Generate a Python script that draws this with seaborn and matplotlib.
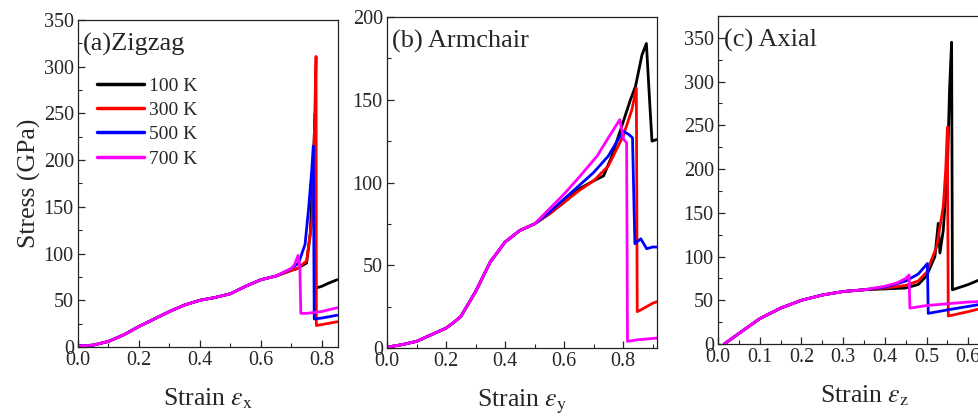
import matplotlib
matplotlib.use("Agg")
import matplotlib.pyplot as plt
from matplotlib.ticker import MultipleLocator
import pandas as pd
import seaborn as sns

temps = ["100 K", "300 K", "500 K", "700 K"]
colors = ["#000000", "#ff0000", "#0000ff", "#ff00ff"]

# ---------------- (a) Zigzag ----------------
a_base_x = [0.0, 0.05, 0.1, 0.15, 0.2, 0.25, 0.3, 0.35, 0.4, 0.45, 0.5, 0.55, 0.6, 0.65]
a_base_y = [1, 2, 6, 13, 22, 30, 38, 45, 50, 53, 57, 65, 72, 76]
a100_x = [0.7, 0.72, 0.75, 0.762, 0.772, 0.778, 0.78, 0.8, 0.82, 0.85]
a100_y = [82, 84, 90, 121, 200, 250, 63, 65, 68, 72]
a300_x = [0.7, 0.72, 0.75, 0.769, 0.776, 0.781, 0.782, 0.8, 0.85]
a300_y = [82, 84, 92, 139, 235, 311, 23, 24, 27]
a500_x = [0.7, 0.724, 0.745, 0.757, 0.767, 0.772, 0.775, 0.8, 0.85]
a500_y = [84, 90, 110, 150, 190, 215, 30, 31, 34]
a700_x = [0.7, 0.71, 0.722, 0.728, 0.731, 0.75, 0.8, 0.85]
a700_y = [84, 88, 98, 86, 36, 36, 38, 42]

# ---------------- (b) Armchair ----------------
b_base_x = [0.0, 0.05, 0.1, 0.15, 0.2, 0.23, 0.25, 0.3, 0.35, 0.4, 0.45, 0.5]
b_base_y = [0.5, 2, 4, 8, 12, 16, 19, 34, 52, 64, 71, 75]
b100_x = [0.55, 0.6, 0.65, 0.7, 0.734, 0.762, 0.79, 0.825, 0.842, 0.864, 0.879, 0.893, 0.898, 0.915]
b100_y = [81, 88, 96, 101, 104, 116, 131, 150, 158, 177, 184, 140, 125, 126]
b300_x = [0.55, 0.6, 0.65, 0.7, 0.75, 0.8, 0.83, 0.845, 0.848, 0.86, 0.9, 0.915]
b300_y = [81, 88, 95, 101, 110, 128, 144, 157, 22, 23, 27, 28]
b500_x = [0.55, 0.6, 0.65, 0.7, 0.75, 0.78, 0.8, 0.82, 0.832, 0.84, 0.86, 0.88, 0.9, 0.915]
b500_y = [82, 90, 98, 106, 116, 125, 131, 129, 127, 63, 66, 60, 61, 61]
b700_x = [0.55, 0.6, 0.65, 0.712, 0.75, 0.789, 0.802, 0.812, 0.815, 0.85, 0.915]
b700_y = [84, 93, 103, 116, 127, 138, 126, 124, 4, 5, 6]

# ---------------- (c) Axial ----------------
c_base_x = [0.015, 0.05, 0.1, 0.15, 0.2, 0.25, 0.3, 0.35]
c_base_y = [0, 12, 29, 41, 50, 56, 60, 62]
c100_x = [0.4, 0.45, 0.48, 0.5, 0.52, 0.528, 0.532, 0.54, 0.55, 0.555, 0.56, 0.562, 0.6, 0.65]
c100_y = [63, 64, 68, 78, 100, 138, 104, 130, 200, 290, 345, 62, 68, 78]
c300_x = [0.4, 0.45, 0.48, 0.5, 0.524, 0.54, 0.546, 0.55, 0.552, 0.6, 0.65]
c300_y = [64, 67, 72, 82, 111, 157, 200, 248, 32, 37, 43]
c500_x = [0.4, 0.45, 0.48, 0.502, 0.504, 0.55, 0.6, 0.65]
c500_y = [65, 72, 80, 92, 35, 39, 43, 47]
c700_x = [0.4, 0.43, 0.45, 0.458, 0.46, 0.5, 0.55, 0.6, 0.65]
c700_y = [66, 70, 75, 79, 41, 44, 46, 48, 49]


def make_df(base_x, base_y, tails):
    rows = []
    for t, (tx, ty) in zip(temps, tails):
        for x, y in zip(list(base_x) + list(tx), list(base_y) + list(ty)):
            rows.append({"strain": x, "stress": y, "T": t})
    return pd.DataFrame(rows)


df_a = make_df(a_base_x, a_base_y, [(a100_x, a100_y), (a300_x, a300_y), (a500_x, a500_y), (a700_x, a700_y)])
df_b = make_df(b_base_x, b_base_y, [(b100_x, b100_y), (b300_x, b300_y), (b500_x, b500_y), (b700_x, b700_y)])
df_c = make_df(c_base_x, c_base_y, [(c100_x, c100_y), (c300_x, c300_y), (c500_x, c500_y), (c700_x, c700_y)])

sns.set_style("ticks")
plt.rcParams["font.family"] = ["Liberation Serif", "DejaVu Serif"]
plt.rcParams["mathtext.fontset"] = "stix"

W, H = 979, 419
fig = plt.figure(figsize=(W / 100, H / 100), dpi=100)


def px_axes(left, top, right, bottom):
    return fig.add_axes([left / W, (H - bottom) / H, (right - left) / W, (bottom - top) / H])


ax_a = px_axes(78, 20, 338, 347)
ax_b = px_axes(387, 17, 657, 348)
ax_c = px_axes(718, 16, 1010, 344)

palette = dict(zip(temps, colors))
panels = [
    (ax_a, df_a, (0, 0.853), (0, 350), 0.2, 0.1, "(a)Zigzag", r"Strain $\varepsilon_{\rm x}$"),
    (ax_b, df_b, (0, 0.915), (0, 200), 0.2, 0.1, "(b) Armchair", r"Strain $\varepsilon_{\rm y}$"),
    (ax_c, df_c, (0, 0.7), (0, 375), 0.1, 0.05, "(c) Axial", r"Strain $\varepsilon_{\rm z}$"),
]

for i, (ax, df, xl, yl, xmaj, xmin, title, xlabel) in enumerate(panels):
    sns.lineplot(data=df, x="strain", y="stress", hue="T", hue_order=temps,
                 palette=palette, sort=False, estimator=None, linewidth=2.0,
                 ax=ax, legend=(i == 0))
    ax.set_xlim(*xl)
    ax.set_ylim(*yl)
    ax.xaxis.set_major_locator(MultipleLocator(xmaj))
    ax.xaxis.set_minor_locator(MultipleLocator(xmin))
    ax.yaxis.set_major_locator(MultipleLocator(50))
    ax.yaxis.set_minor_locator(MultipleLocator(25))
    ax.xaxis.set_major_formatter(matplotlib.ticker.FormatStrFormatter("%.1f"))
    ax.tick_params(which="major", direction="in", length=5, width=0.9, labelsize=14.5,
                   top=False, right=False, pad=3)
    ax.tick_params(which="minor", direction="in", length=3, width=0.8, top=False, right=False)
    for s in ax.spines.values():
        s.set_linewidth(0.9)
        s.set_color("#222222")
    ax.set_xlabel(xlabel, fontsize=18.5, labelpad=12)
    if i == 0:
        ax.set_ylabel("Stress (GPa)", fontsize=18.5, labelpad=2)
    else:
        ax.set_ylabel("")
    ax.text(0.02, 0.925, title, transform=ax.transAxes, fontsize=19, va="center", ha="left")

leg = ax_a.legend(loc="upper left", bbox_to_anchor=(0.073, 0.825), frameon=False,
                  fontsize=14, handlelength=2.4, handletextpad=0.25, labelspacing=0.34,
                  borderpad=0, borderaxespad=0)
for line in leg.get_lines():
    line.set_linewidth(2.5)

fig.savefig("out.png", dpi=100)
